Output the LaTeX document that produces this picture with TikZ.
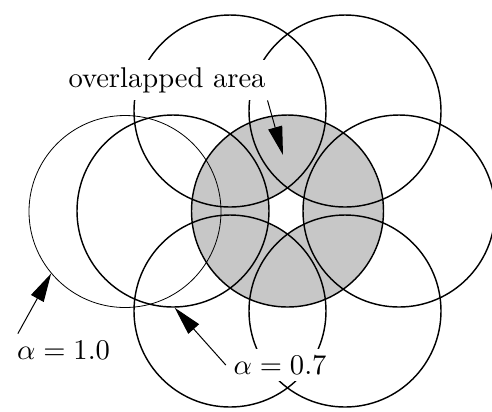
\documentclass[tikz,border=0pt]{standalone}
\usetikzlibrary{arrows.meta}
\begin{document}
\begin{tikzpicture}[x=0.35pt, y=0.35pt,
  ring/.style={circle,draw,line width=0.5pt,minimum size=67.2pt,inner sep=0pt},
  thinring/.style={ring,line width=0.28pt},
  lab/.style={fill=white,inner sep=2.5pt},
  pointer/.style={-{Triangle[length=10pt,width=5pt]},line width=0.35pt}]
\useasboundingbox (0,0) rectangle (492,411);
\coordinate (p0) at (287.5,200);
\coordinate (p1) at (399,200);
\coordinate (p2) at (345,300);
\coordinate (p3) at (230,300);
\coordinate (p4) at (173,200);
\coordinate (p5) at (230,100);
\coordinate (p6) at (345,100);
\begin{scope}
\clip (p0) circle (96);
\foreach \i in {1,...,6}
  \fill[black!22] (p\i) circle (96);
\end{scope}
\node[thinring] (cT) at (125,199.5) {};
\node[ring] (c0) at (p0) {};
\foreach \i in {1,...,6}
  \node[ring] (c\i) at (p\i) {};
\node[lab] (over) at (167,331) {overlapped area};
\node[lab] (la) at (63.5,60.5) {$\alpha=1.0$};
\node[lab] (lb) at (280,46) {$\alpha=0.7$};
\coordinate (tipO) at (283,256);
\draw[pointer] ([xshift=-2pt]over.south east) -- (tipO);
\draw[pointer] ([xshift=3pt]la.north west) -- (cT.220);
\draw[pointer] (lb.west) -- (c4.-89);
\end{tikzpicture}
\end{document}
